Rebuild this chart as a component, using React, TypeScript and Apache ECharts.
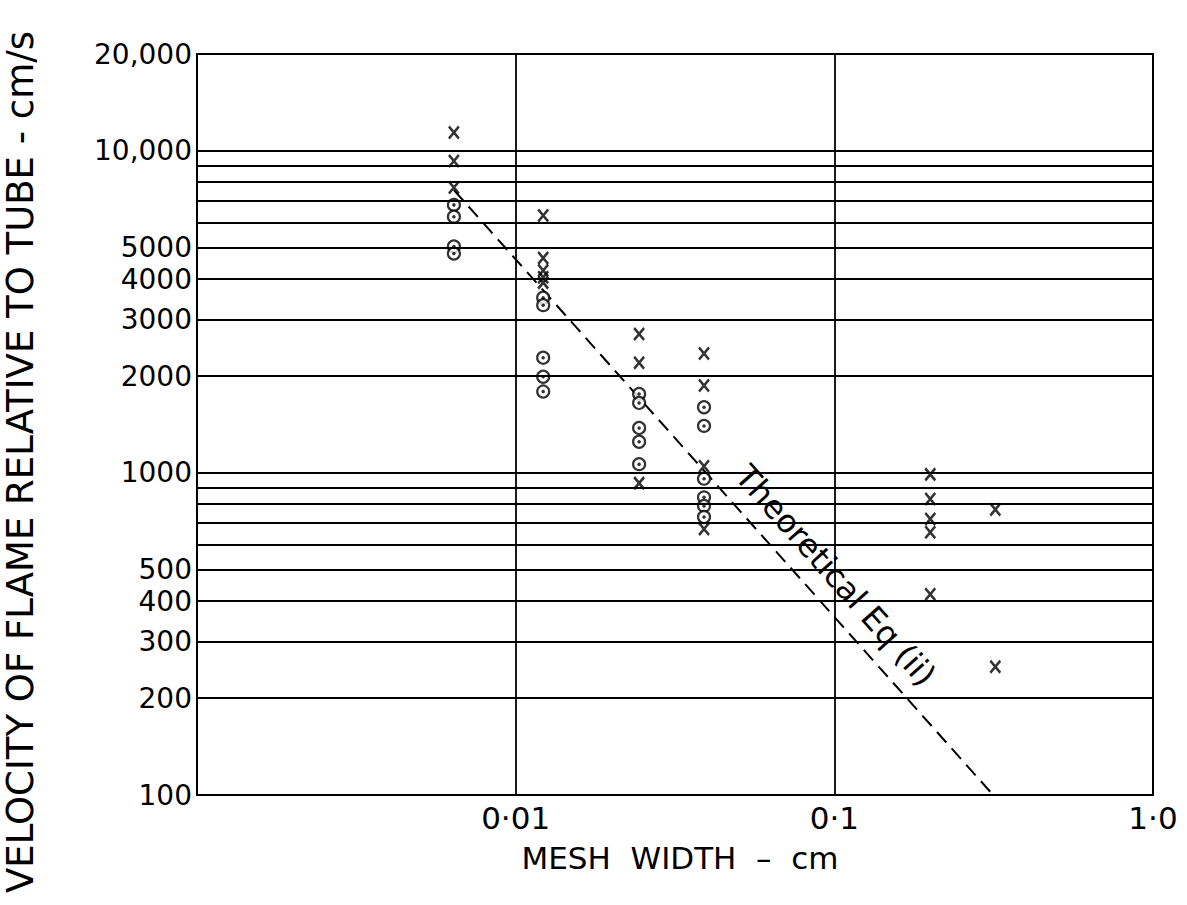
import React, { useEffect, useRef } from "react";
import * as echarts from "echarts";

const FONT = "DejaVu Sans";

// Mesh widths (cm) of the measured columns
const meshWidths = [0.0064, 0.0122, 0.0244, 0.039, 0.2, 0.32];
// Velocities (cm/s) plotted with "x" markers, one list per mesh width
const crossVelocities = [
  [11400, 9300, 7700],
  [6300, 4650, 4250, 4050, 3900],
  [2700, 2200, 930],
  [2350, 1870, 1050, 670],
  [990, 830, 720, 655, 420],
  [770, 250],
];
// Velocities (cm/s) plotted with circled-dot markers
const circleVelocities = [
  [6800, 6250, 5050, 4800],
  [3500, 3320, 2280, 1990, 1790],
  [1760, 1650, 1380, 1250, 1065],
  [1600, 1400, 960, 840, 790, 730],
  [],
  [],
];
// Theoretical Eq (ii) line end points
const theoryWidths = [0.0064, 0.315];
const theoryVelocities = [7560, 100];
const theoryLabel = "Theoretical Eq (ii)";
const theoryLabelAnchor = [0.101, 480];

// Horizontal rulings of the log paper
const gridVelocities = [
  100, 200, 300, 400, 500, 600, 700, 800, 900, 1000, 2000, 3000, 4000, 5000,
  6000, 7000, 8000, 9000, 10000, 20000,
];
const yTickValues = [100, 200, 300, 400, 500, 1000, 2000, 3000, 4000, 5000, 10000, 20000];
const yTickLabels = ["100", "200", "300", "400", "500", "1000", "2000", "3000", "4000", "5000", "10,000", "20,000"];
const xTickValues = [0.01, 0.1, 1];
const xTickLabels = ["0·01", "0·1", "1·0"];

const xTitle = "MESH  WIDTH  –  cm";
const yTitle = "VELOCITY OF FLAME RELATIVE TO TUBE - cm/s";

export default function App() {
  const ref = useRef<HTMLDivElement>(null);
  useEffect(() => {
    if (!ref.current) return;
    const chart = echarts.init(ref.current, undefined, { renderer: "svg" });

    const crossPoints = meshWidths.flatMap((w, i) => crossVelocities[i].map((v) => [w, v]));
    const circlePoints = meshWidths.flatMap((w, i) => circleVelocities[i].map((v) => [w, v]));
    const theoryPoints = theoryWidths.map((w, i) => [w, theoryVelocities[i]]);

    const option: any = {
      animation: false,
      backgroundColor: "#fff",
      grid: {
        left: 197,
        right: 34,
        top: 54,
        bottom: 110,
        show: true,
        borderColor: "#000",
        borderWidth: 2,
        backgroundColor: "transparent",
      },
      xAxis: {
        type: "log",
        logBase: 10,
        min: 0.001,
        max: 1,
        axisLine: { show: true, lineStyle: { color: "#000", width: 2 } },
        axisTick: { show: false },
        splitLine: { show: true, lineStyle: { color: "#000", width: 1.8 } },
        axisLabel: {
          color: "#000",
          fontFamily: FONT,
          fontSize: 31,
          margin: 7,
          formatter: (v: number) => {
            const i = xTickValues.findIndex((t) => Math.abs(Math.log10(t) - Math.log10(v)) < 1e-6);
            return i >= 0 ? xTickLabels[i] : "";
          },
        },
      },
      yAxis: {
        type: "log",
        logBase: 10,
        min: 100,
        max: 20000,
        axisLine: { show: true, lineStyle: { color: "#000", width: 2 } },
        axisTick: { show: false },
        axisLabel: { show: false },
        splitLine: { show: false },
      },
      graphic: [
        {
          type: "text",
          x: 20,
          y: 462,
          rotation: Math.PI / 2,
          style: {
            text: yTitle,
            font: `37px "${FONT}"`,
            fill: "#000",
            textAlign: "center",
            textVerticalAlign: "middle",
          },
        },
        {
          type: "text",
          x: 680,
          y: 858,
          style: {
            text: xTitle,
            font: `31px "${FONT}"`,
            fill: "#000",
            textAlign: "center",
            textVerticalAlign: "middle",
          },
        },
      ],
      series: [
        {
          type: "line",
          data: theoryPoints,
          symbol: "none",
          lineStyle: { color: "#000", width: 2, type: [14, 8] },
          z: 3,
          markLine: {
            silent: true,
            symbol: ["none", "none"],
            animation: false,
            lineStyle: { color: "#000", width: 1.8, type: "solid" },
            label: {
              show: true,
              position: "start",
              distance: 5,
              color: "#000",
              fontFamily: FONT,
              fontSize: 28,
              lineHeight: 28,
            },
            emphasis: { disabled: true },
            data: gridVelocities.map((v) => {
              const idx = yTickValues.indexOf(v);
              return {
                yAxis: v,
                label: idx >= 0 ? { show: true, formatter: yTickLabels[idx] } : { show: false },
              };
            }),
          },
          markPoint: {
            silent: true,
            symbol: "circle",
            symbolSize: 1,
            itemStyle: { color: "rgba(0,0,0,0)" },
            label: {
              show: true,
              position: "inside",
              formatter: theoryLabel,
              rotate: -48.3,
              color: "#000",
              fontFamily: FONT,
              fontSize: 32,
            },
            data: [{ coord: theoryLabelAnchor }],
          },
        },
        {
          type: "scatter",
          data: crossPoints,
          symbol: "path://M0,0L10,12M10,0L0,12",
          symbolSize: [10, 12],
          itemStyle: { color: "#000", borderColor: "#000", borderWidth: 2.6 },
          z: 4,
        },
        {
          type: "scatter",
          data: circlePoints,
          symbol: "circle",
          symbolSize: 12,
          itemStyle: { color: "#fff", borderColor: "#000", borderWidth: 2.2 },
          z: 4,
        },
        {
          type: "scatter",
          data: circlePoints,
          symbol: "circle",
          symbolSize: 3.5,
          itemStyle: { color: "#000" },
          z: 5,
        },
      ],
    };
    chart.setOption(option);
    return () => chart.dispose();
  }, []);

  return (
    <div
      ref={ref}
      style={{ position: "fixed", left: 0, top: 0, width: 1187, height: 905, background: "#fff" }}
    />
  );
}
